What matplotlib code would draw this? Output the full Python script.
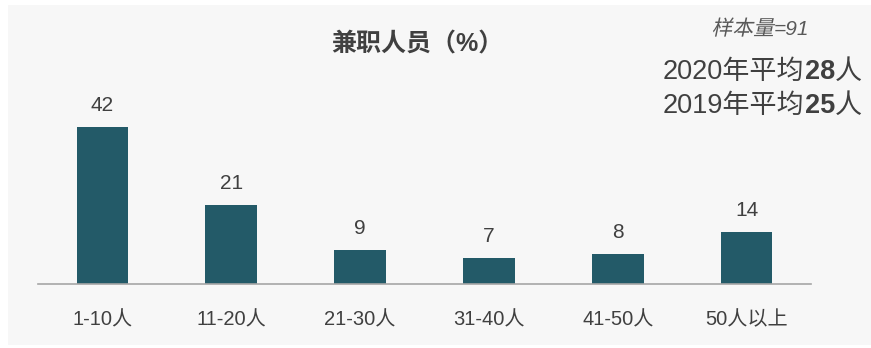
import matplotlib
matplotlib.use("Agg")
import matplotlib.pyplot as plt
from matplotlib.patches import Rectangle, PathPatch
from matplotlib.textpath import TextPath
from matplotlib.font_manager import FontProperties
from matplotlib.transforms import Affine2D, IdentityTransform

plt.rcParams['font.family'] = ['Liberation Sans', 'Noto Sans CJK SC', 'DejaVu Sans']

# data
categories = ["1-10人", "11-20人", "21-30人", "31-40人", "41-50人", "50人以上"]
values = [42, 21, 9, 7, 8, 14]
title = "兼职人员（%）"
sample_cjk, sample_num = "样本量", "=91"
avg_lines = [("2020年平均", "28", "人"), ("2019年平均", "25", "人")]

bar_color = "#235a68"
text_color = "#404040"

W, H = 871, 348
fig = plt.figure(figsize=(W / 100, H / 100), dpi=100)
fig.patch.set_facecolor("white")
fig.patches.append(Rectangle((8 / W, 3 / H), 1 - 8 / W, 1 - 8 / H,
                             transform=fig.transFigure, facecolor="#f7f7f7",
                             edgecolor="none", zorder=-5))

ax = fig.add_axes([38 / W, 1 - 284 / H, (811 - 38) / W, 184 / H])
ax.set_zorder(2)
ax.set_facecolor("none")
x = range(len(categories))
ax.bar(x, values, width=0.4, color=bar_color, zorder=2)
for i, v in zip(x, values):
    ax.annotate(str(v), (i, v), xytext=(0, 12), textcoords="offset pixels",
                ha="center", va="bottom", fontsize=15, color=text_color)
ax.set_xlim(-0.5, len(categories) - 0.5)
ax.set_ylim(0, 49.2)
ax.set_xticks(list(x))
ax.set_xticklabels(categories, fontsize=14.5, color=text_color)
ax.tick_params(axis="x", length=0, pad=19)
ax.set_yticks([])
for s in ["top", "right", "left"]:
    ax.spines[s].set_visible(False)
ax.spines["bottom"].set_color("#a6a6a6")
ax.spines["bottom"].set_linewidth(1.2)

fig.text(417 / W, 1 - 45 / H, title, ha="center", va="center", fontsize=18,
         fontweight="bold", color=text_color)

fig.canvas.draw()
renderer = fig.canvas.get_renderer()

# sample size note: CJK part slanted by hand (no italic CJK font), rest italic
fs_px = 15 * 100 / 72
tp = TextPath((0, 0), sample_cjk, size=fs_px,
              prop=FontProperties(family="Noto Sans CJK SC"))
cjk_w = tp.get_extents().x1
num = fig.text(0, 0, sample_num, fontsize=15, style="italic", color="#595959")
num_w = num.get_window_extent(renderer).width
total = cjk_w + num_w
x0 = 760 - total / 2
base = H - 35
fig.patches.append(PathPatch(tp, transform=Affine2D().skew_deg(12, 0).translate(x0, base)
                             + IdentityTransform(),
                             facecolor="#595959", edgecolor="none", zorder=3))
num.set_position(((x0 + cjk_w + 1) / W, base / H))
num.set_va("baseline")

# mixed weight lines, placed piece by piece from the right edge
for row, (pre, n, post) in enumerate(avg_lines):
    y = 1 - (72 + 34 * row) / H
    xr = 862 / W
    for txt, wt in [(post, "normal"), (n, "bold"), (pre, "normal")]:
        t = fig.text(xr, y, txt, ha="right", va="center", fontsize=19.5,
                     fontweight=wt, color=text_color)
        bb = t.get_window_extent(renderer)
        xr = bb.x0 / W

fig.savefig("out.png", dpi=100)
